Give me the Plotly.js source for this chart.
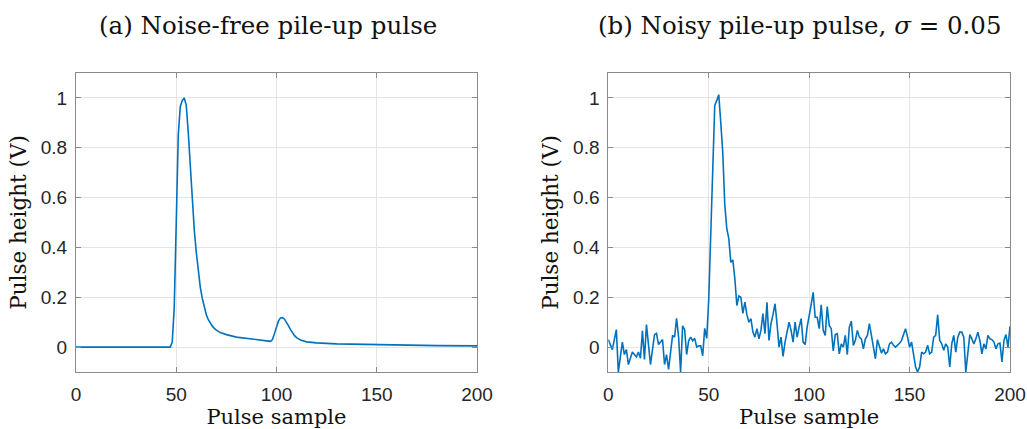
<!DOCTYPE html>
<html>
<head>
<meta charset="utf-8">
<script src="https://cdn.plot.ly/plotly-3.0.1.min.js"></script>
<style>html,body{margin:0;padding:0;background:#fff;}#chart{width:1027px;height:429px;}</style>
</head>
<body>
<div id="chart"></div>
<script>
// (a) noise-free pile-up pulse: sample index and height (V)
const cleanSamples = [0,10,20,30,40,47,48,49,50,51,52,53,54,55,56,57,58,59,60,61,62,63,64,65,66,67,68,69,70,72,75,80,85,90,95,97,98,99,100,101,102,103,104,105,106,107,108,109,110,112,115,120,130,140,160,180,200];
const cleanHeight  = [0,0,0,0,0,0.0,0.02,0.16,0.5,0.85,0.965,0.99,1.0,0.97,0.86,0.72,0.58,0.47,0.38,0.30,0.24,0.195,0.16,0.13,0.11,0.095,0.084,0.075,0.068,0.058,0.05,0.04,0.034,0.029,0.025,0.023,0.03,0.055,0.085,0.105,0.117,0.118,0.112,0.1,0.085,0.07,0.057,0.046,0.038,0.028,0.021,0.017,0.013,0.011,0.008,0.006,0.005];

// (b) noisy pile-up pulse, sigma = 0.05: samples 0..200
const noisyHeight = [
 0.03,0.01,-0.01,0.03,0.07,-0.1,-0.04,0.02,-0.03,-0.01,
 -0.07,-0.04,-0.02,-0.03,-0.04,-0.02,-0.045,0.065,-0.05,0.09,
 0.01,-0.07,-0.01,0.05,0.055,0.01,0.02,0.03,-0.07,-0.03,
 -0.09,-0.01,0.047,0.04,0.115,0.04,-0.1,0.085,0.07,-0.03,
 0.025,0.04,0.025,0.035,0.0,0.005,0.005,-0.035,0.075,0.035,
 0.19,0.45,0.70,0.97,0.99,1.013,0.90,0.78,0.57,0.475,
 0.435,0.34,0.35,0.275,0.167,0.205,0.2,0.135,0.18,0.13,
 0.1,0.114,0.06,0.04,0.074,0.033,0.067,0.134,0.054,0.18,
 0.027,0.094,0.13,0.174,0.094,0.0,0.04,-0.037,0.02,0.06,
 0.1,0.067,0.02,0.1,0.04,0.08,0.114,0.02,0.01,0.08,
 0.12,0.17,0.22,0.12,0.12,0.074,0.17,0.067,0.047,0.163,
 0.087,0.074,-0.015,0.05,0.054,-0.027,0.013,0.0,0.047,-0.03,
 0.08,0.104,0.007,0.027,0.067,0.04,0.033,-0.007,0.033,0.047,
 0.094,0.047,0.007,-0.047,0.03,0.0,-0.024,-0.007,-0.027,-0.02,
 0.013,0.02,0.007,0.0,0.007,0.015,0.027,0.047,0.074,0.04,
 0.0,0.02,-0.04,-0.08,-0.1,-0.08,-0.02,-0.027,-0.02,0.007,
 -0.027,-0.02,0.04,0.047,0.13,0.027,0.013,-0.013,0.013,0.0,
 -0.08,0.013,0.047,-0.02,0.04,0.06,0.06,0.04,-0.1,-0.013,
 0.05,0.033,0.013,0.033,0.06,0.027,-0.027,0.013,-0.007,0.047,
 0.033,0.03,0.02,-0.007,0.013,0.016,-0.06,0.027,0.05,0.0,
 0.083
];
const noisySamples = noisyHeight.map((_, i) => i);

const xTicks = [0, 50, 100, 150, 200];
const yTicks = [0, 0.2, 0.4, 0.6, 0.8, 1];
const titles = ['(a) Noise-free pile-up pulse', '(b) Noisy pile-up pulse, <i>σ</i> = 0.05'];
const xLabel = 'Pulse sample';
const yLabel = 'Pulse height (V)';

const lineColor = '#0072BD';
const serif = '"DejaVu Serif", "Liberation Serif", serif';
const sans = '"Liberation Sans", Arial, sans-serif';

function xAxis(domain, anchor) {
  return {
    domain: domain, anchor: anchor, range: [0, 200], tickvals: xTicks,
    ticks: 'inside', ticklen: 5, tickcolor: '#8a8a8a', mirror: 'ticks',
    showline: true, linecolor: '#8a8a8a', linewidth: 1,
    showgrid: true, gridcolor: '#e4e4e4', zeroline: false,
    tickfont: {family: sans, size: 19, color: '#262626'},
    ticklabelstandoff: 5,
    title: {text: xLabel, font: {family: serif, size: 21, color: '#111'}, standoff: 5}
  };
}
function yAxis(domain, anchor) {
  return {
    domain: domain, anchor: anchor, range: [-0.1, 1.1], tickvals: yTicks,
    ticks: 'inside', ticklen: 5, tickcolor: '#8a8a8a', mirror: 'ticks',
    showline: true, linecolor: '#8a8a8a', linewidth: 1,
    showgrid: true, gridcolor: '#e4e4e4', zeroline: false,
    tickfont: {family: sans, size: 19, color: '#262626'},
    ticklabelstandoff: 4,
    title: {text: yLabel, font: {family: serif, size: 21.5, color: '#111'}, standoff: 8}
  };
}

const data = [
  {x: cleanSamples, y: cleanHeight, type: 'scatter', mode: 'lines', line: {color: lineColor, width: 1.6}, xaxis: 'x', yaxis: 'y', hoverinfo: 'skip'},
  {x: noisySamples, y: noisyHeight, type: 'scatter', mode: 'lines', line: {color: lineColor, width: 1.6}, xaxis: 'x2', yaxis: 'y2', hoverinfo: 'skip'}
];

const yDom = [1 - 372/429, 1 - 73/429];
const layout = {
  width: 1027, height: 429,
  margin: {l: 0, r: 0, t: 0, b: 0},
  paper_bgcolor: '#fff', plot_bgcolor: '#fff',
  showlegend: false,
  xaxis: xAxis([76/1027, 477/1027], 'y'),
  yaxis: yAxis(yDom, 'x'),
  xaxis2: xAxis([608.3/1027, 1010/1027], 'y2'),
  yaxis2: yAxis(yDom, 'x2'),
  annotations: [
    {text: titles[0], x: 268/1027, y: 1 - 25/429, xref: 'paper', yref: 'paper', xanchor: 'center', yanchor: 'middle', showarrow: false, font: {family: serif, size: 24.5, color: '#111'}},
    {text: titles[1], x: 800/1027, y: 1 - 25/429, xref: 'paper', yref: 'paper', xanchor: 'center', yanchor: 'middle', showarrow: false, font: {family: serif, size: 24.5, color: '#111'}}
  ]
};

Plotly.newPlot('chart', data, layout, {staticPlot: true, displayModeBar: false});
</script>
</body>
</html>
